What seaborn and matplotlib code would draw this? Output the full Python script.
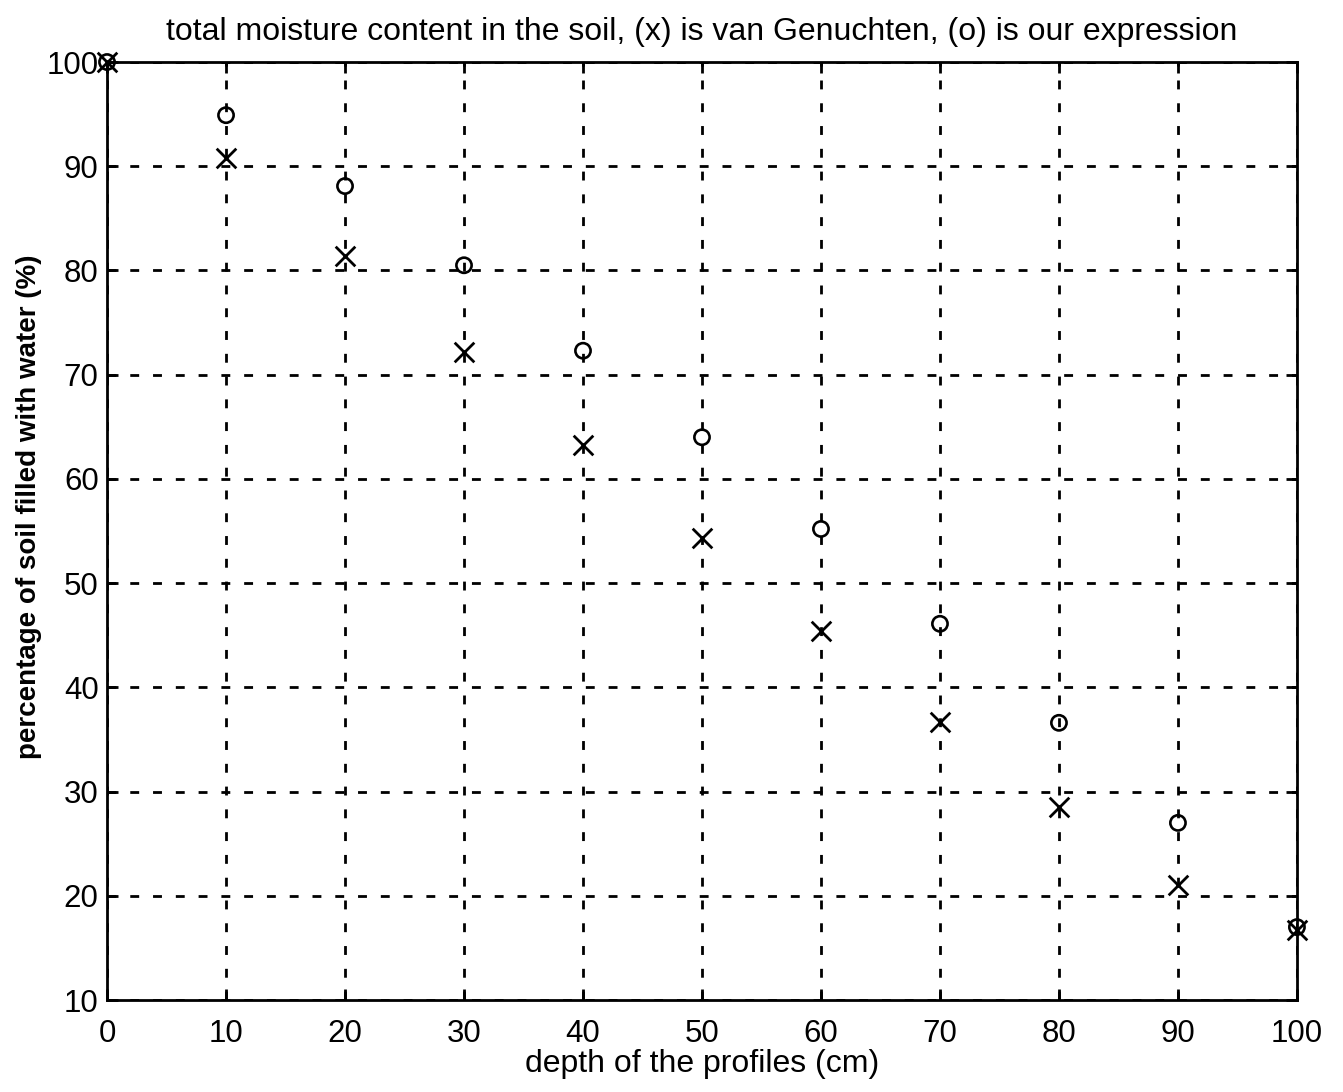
import matplotlib
matplotlib.use("Agg")
import matplotlib.pyplot as plt
import seaborn as sns
import pandas as pd

depth = [0, 10, 20, 30, 40, 50, 60, 70, 80, 90, 100]
ours = [100, 94.9, 88.1, 80.5, 72.3, 64.0, 55.2, 46.1, 36.6, 27.0, 17.0]
vangenuchten = [100, 90.8, 81.4, 72.2, 63.3, 54.3, 45.4, 36.7, 28.5, 21.0, 16.7]
xticks = [0, 10, 20, 30, 40, 50, 60, 70, 80, 90, 100]
yticks = [10, 20, 30, 40, 50, 60, 70, 80, 90, 100]

sns.set_style("white")
plt.rcParams['font.family'] = ['Liberation Sans', 'DejaVu Sans']
plt.rcParams['text.color'] = 'black'
plt.rcParams['axes.labelcolor'] = 'black'

fig = plt.figure(figsize=(13.43, 10.92), dpi=100)
ax = fig.add_axes([0.0797, 0.0842, 0.886, 0.8590])

df_o = pd.DataFrame({"depth": depth, "value": ours})
df_x = pd.DataFrame({"depth": depth, "value": vangenuchten})
sns.scatterplot(data=df_o, x="depth", y="value", marker="o", s=120,
                facecolors="none", edgecolor="black", linewidth=1.9, ax=ax,
                zorder=3, clip_on=False)
sns.scatterplot(data=df_x, x="depth", y="value", marker="x", s=200,
                color="black", linewidth=2.0, ax=ax, zorder=3, clip_on=False)

ax.set_xlim(0, 100)
ax.set_ylim(10, 100)
ax.set_xticks(xticks)
ax.set_yticks(yticks)
ax.grid(True, color="black", linestyle=(0, (3.2, 5)), linewidth=2.0)
ax.set_axisbelow(True)
for s in ax.spines.values():
    s.set_color("black")
    s.set_linewidth(2.0)
ax.tick_params(axis="both", direction="in", length=8, width=2, labelsize=22.5,
               colors="black", labelcolor="black", pad=8,
               top=True, right=True, bottom=True, left=True)
ax.tick_params(axis="x", pad=14)
ax.tick_params(axis="y", pad=6)
ax.set_xlabel("depth of the profiles (cm)", fontsize=23, labelpad=0, color="black")
ax.set_ylabel("percentage of soil filled with water (%)", fontsize=20,
              fontweight="bold", color="black")
ax.yaxis.set_label_coords(-0.0546, 0.5256)
ax.set_title("total moisture content in the soil, (x) is van Genuchten, (o) is our expression",
             fontsize=23, pad=16, color="black")

fig.savefig("out.png", dpi=100)
